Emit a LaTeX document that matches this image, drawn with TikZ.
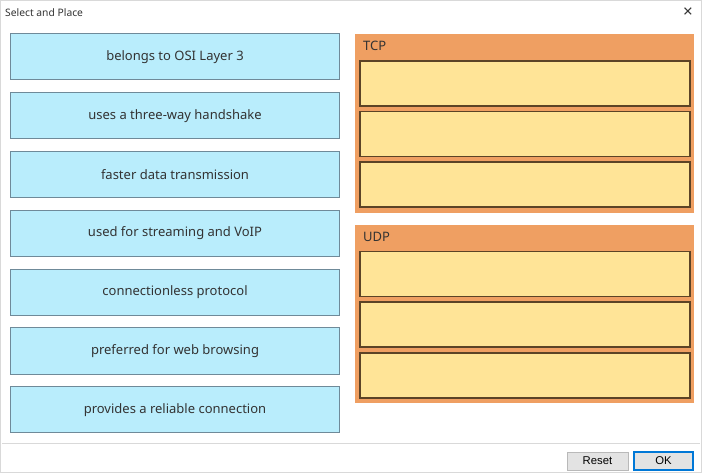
\documentclass[tikz,border=0pt]{standalone}
\usepackage{fontspec}
\setmainfont{Noto Sans}
\newfontfamily\btnfont{Liberation Sans}
\usetikzlibrary{positioning}

\definecolor{cardfill}{HTML}{B9EDFC}
\definecolor{cardline}{HTML}{6F8A99}
\definecolor{panelfill}{HTML}{EF9F62}
\definecolor{slotfill}{HTML}{FFE497}
\definecolor{slotline}{HTML}{5C4326}
\definecolor{txtgray}{HTML}{333333}
\definecolor{okblue}{HTML}{0078D7}

\begin{document}
\begin{tikzpicture}[
        x=1pt, y=-1pt, % pixel grid, y downwards
        card/.style={draw=cardline, fill=cardfill, line width=1pt, minimum width=329pt, minimum height=46pt,
                inner sep=0pt, text=txtgray, font=\fontsize{13}{15}\selectfont}, % answer cards
        node distance=11.8pt,
        panel/.style={fill=panelfill, anchor=north west, minimum width=339pt, inner sep=0pt}, % target groups
        slot/.style={draw=slotline, fill=slotfill, line width=1.2pt, minimum width=330pt, minimum height=45pt, inner sep=0pt},
        head/.style={anchor=west, text=txtgray, inner sep=0pt, font=\fontsize{13}{15}\selectfont},
        button/.style={draw=gray!55, fill=gray!22, line width=1pt, minimum height=18pt, inner sep=0pt,
                font=\btnfont\fontsize{11.3}{13}\selectfont},
    ]
    \useasboundingbox (0,0) rectangle (702,473);
    \draw[gray!30, line width=1pt] (0.5,0.5) rectangle (701.5,472.5);

    % title bar
    \node[head, font=\fontsize{10.3}{12}\selectfont] (title) at (5,13) {Select and Place};
    \node[inner sep=0pt, font=\fontsize{17}{17}\selectfont, text=txtgray] (close) at (688,13) {×};

    % answer cards
    \node[card] (c1) at (175,57) {belongs to OSI Layer 3};
    \node[card, below=of c1] (c2) {uses a three-way handshake};
    \node[card, below=of c2] (c3) {faster data transmission};
    \node[card, below=of c3] (c4) {used for streaming and VoIP};
    \node[card, below=of c4] (c5) {connectionless protocol};
    \node[card, below=of c5] (c6) {preferred for web browsing};
    \node[card, below=of c6] (c7) {provides a reliable connection};

    % TCP group
    \node[panel, minimum height=179pt] (tcp) at (355,34) {};
    \node[head] (tcplabel) at (363,46) {TCP};
    \node[slot] (t1) at (525,83.5) {};
    \node[slot] (t2) at (525,134) {};
    \node[slot] (t3) at (525,184.5) {};

    % UDP group
    \node[panel, minimum height=178pt] (udp) at (355,225) {};
    \node[head] (udplabel) at (363,237) {UDP};
    \node[slot] (u1) at (525,274) {};
    \node[slot] (u2) at (525,324.5) {};
    \node[slot] (u3) at (525,375.5) {};

    % footer
    \coordinate (sepL) at (2,443);
    \coordinate (sepR) at (700,443);
    \draw[gray!30, line width=1pt] (sepL) -- (sepR);
    \node[button, minimum width=61pt] (reset) at (597.5,461) {Reset};
    \node[button, draw=okblue, line width=1.5pt, minimum width=59pt] (ok) at (663.5,461) {OK};
\end{tikzpicture}
\end{document}
